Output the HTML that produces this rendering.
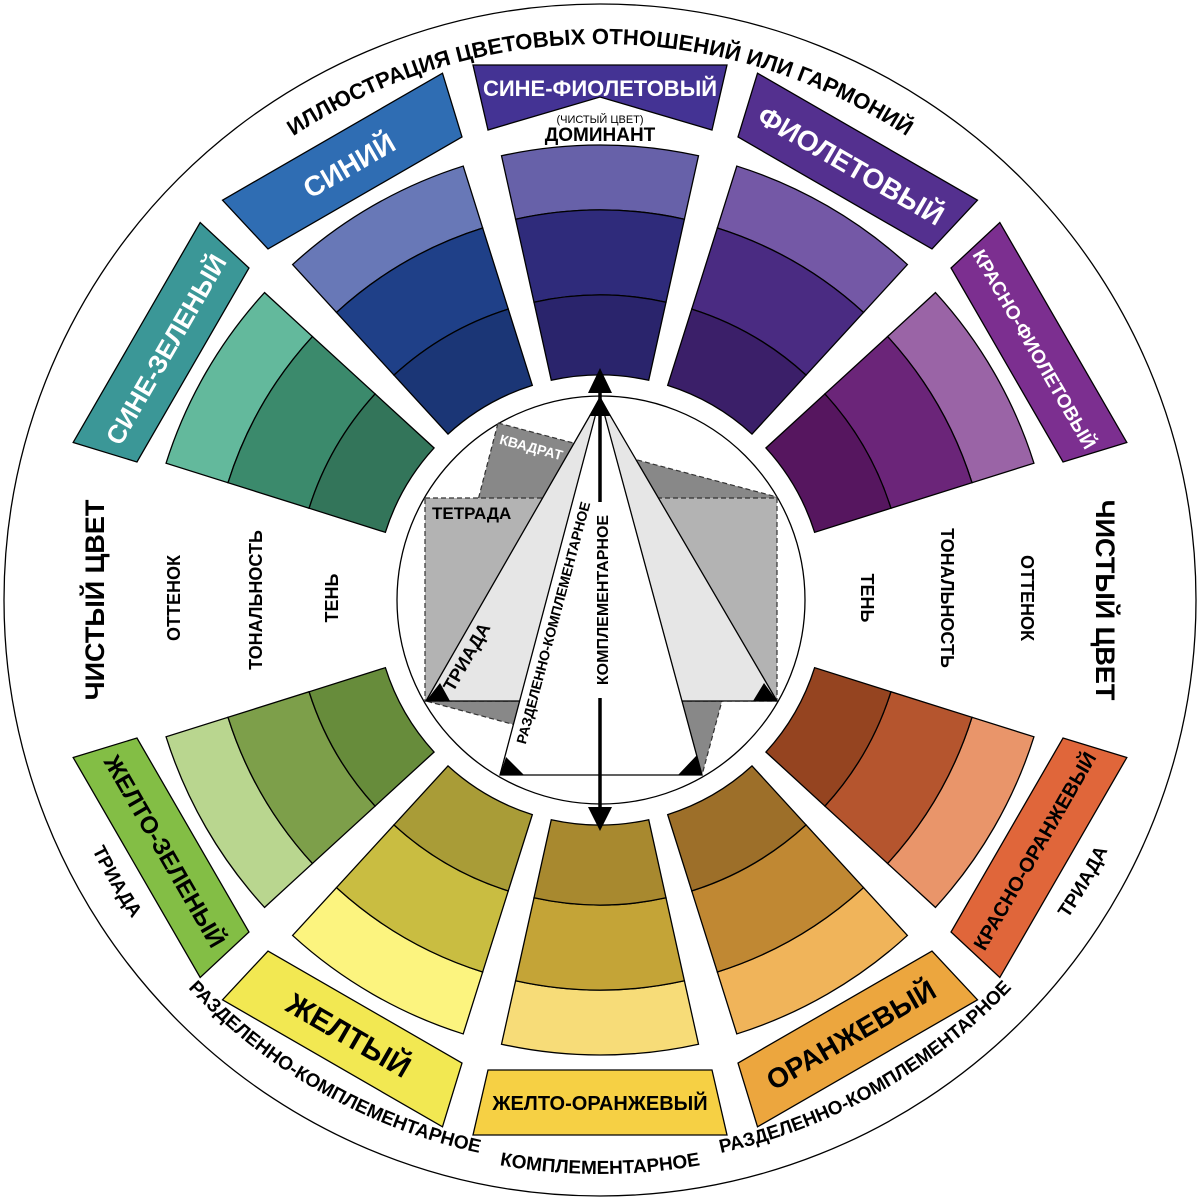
<!DOCTYPE html>
<html><head><meta charset="utf-8"><style>
html,body{margin:0;padding:0;background:#fff}
svg{display:block}
text{font-family:"Liberation Sans","DejaVu Sans",sans-serif}
</style></head><body>
<svg width="1200" height="1199" viewBox="0 0 1200 1199" xmlns="http://www.w3.org/2000/svg">
<defs>
<path id="b1" d="M501.5,155.8 A455,455 0 0,1 698.5,155.8 L684.4,219.2 A390,390 0 0,0 515.6,219.2 Z"/>
<path id="b2" d="M515.6,219.2 A390,390 0 0,1 684.4,219.2 L666,302.2 A305,305 0 0,0 534,302.2 Z"/>
<path id="b3" d="M534,302.2 A305,305 0 0,1 666,302.2 L648.7,380.3 A225,225 0 0,0 551.3,380.3 Z"/>
<polygon id="lt" points="473,65 727,65 712,130 488,130"/>
<polygon id="lb" points="473,1135 727,1135 712,1070 488,1070"/>
<path id="topArc" d="M44,600 A556,556 0 0,1 1156,600"/>
<path id="botArc" d="M26,600 A574,574 0 0,0 1174,600"/>
<path id="botArc2" d="M34,600 A566,566 0 0,0 1166,600"/>
</defs>
<circle cx="600" cy="600" r="596" fill="#fff" stroke="#000" stroke-width="1.3"/>

<g stroke="#000" stroke-width="1.3">
<g transform="rotate(0 600 600)"><use href="#b1" fill="#6761a9"/><use href="#b2" fill="#2f2b7b"/><use href="#b3" fill="#2a246c"/></g>
<g transform="rotate(30 600 600)"><use href="#b1" fill="#7458a6"/><use href="#b2" fill="#4a2b82"/><use href="#b3" fill="#3b1f69"/></g>
<g transform="rotate(60 600 600)"><use href="#b1" fill="#9a64a6"/><use href="#b2" fill="#6b2579"/><use href="#b3" fill="#56165f"/></g>
<g transform="rotate(120 600 600)"><use href="#b1" fill="#e9956a"/><use href="#b2" fill="#b5552e"/><use href="#b3" fill="#954420"/></g>
<g transform="rotate(150 600 600)"><use href="#b1" fill="#f0b45a"/><use href="#b2" fill="#c08833"/><use href="#b3" fill="#9d6f29"/></g>
<g transform="rotate(180 600 600)"><use href="#b1" fill="#f7dc78"/><use href="#b2" fill="#c4a437"/><use href="#b3" fill="#a8892f"/></g>
<g transform="rotate(210 600 600)"><use href="#b1" fill="#fcf47f"/><use href="#b2" fill="#c9bd41"/><use href="#b3" fill="#a99c37"/></g>
<g transform="rotate(240 600 600)"><use href="#b1" fill="#b9d68f"/><use href="#b2" fill="#7d9f4a"/><use href="#b3" fill="#678c3b"/></g>
<g transform="rotate(300 600 600)"><use href="#b1" fill="#63b99c"/><use href="#b2" fill="#3b8a6c"/><use href="#b3" fill="#33755a"/></g>
<g transform="rotate(330 600 600)"><use href="#b1" fill="#6878b7"/><use href="#b2" fill="#1f4088"/><use href="#b3" fill="#1b3676"/></g>
</g>

<!-- labels -->
<g stroke="#000" stroke-width="1.3" font-weight="bold" text-anchor="middle">
<polygon points="473,65 727,65 712,130 600,97 488,130" fill="#443394"/>
<text x="600" y="96" font-size="22" fill="#fff" stroke="none">СИНЕ-ФИОЛЕТОВЫЙ</text>
<g transform="rotate(30 600 600)"><use href="#lt" fill="#54308f"/><text x="600" y="108" font-size="28" fill="#fff" stroke="none">ФИОЛЕТОВЫЙ</text></g>
<g transform="rotate(60 600 600)"><use href="#lt" fill="#7c2f90"/><text x="600" y="105" font-size="19" fill="#fff" stroke="none">КРАСНО-ФИОЛЕТОВЫЙ</text></g>
<g transform="rotate(-60 600 600)"><use href="#lt" fill="#3b9797"/><text x="600" y="108" font-size="26" fill="#fff" stroke="none">СИНЕ-ЗЕЛЕНЫЙ</text></g>
<g transform="rotate(-30 600 600)"><use href="#lt" fill="#2f6db3"/><text x="600" y="108" font-size="28" fill="#fff" stroke="none">СИНИЙ</text></g>
<g transform="rotate(-60 600 600)"><use href="#lb" fill="#e0663a"/><text x="600" y="1109" font-size="20" fill="#000" stroke="none">КРАСНО-ОРАНЖЕВЫЙ</text></g>
<g transform="rotate(-30 600 600)"><use href="#lb" fill="#eca63e"/><text x="600" y="1112" font-size="28" fill="#000" stroke="none">ОРАНЖЕВЫЙ</text></g>
<g><use href="#lb" fill="#f6d044"/><text x="600" y="1110" font-size="20" fill="#000" stroke="none">ЖЕЛТО-ОРАНЖЕВЫЙ</text></g>
<g transform="rotate(30 600 600)"><use href="#lb" fill="#f2e852"/><text x="600" y="1113" font-size="30" fill="#000" stroke="none">ЖЕЛТЫЙ</text></g>
<g transform="rotate(60 600 600)"><use href="#lb" fill="#83be45"/><text x="600" y="1111" font-size="24" fill="#000" stroke="none">ЖЕЛТО-ЗЕЛЕНЫЙ</text></g>
</g>

<text x="600" y="123" font-size="11" text-anchor="middle" fill="#000">(ЧИСТЫЙ ЦВЕТ)</text>
<text x="600" y="141" font-size="19" font-weight="bold" text-anchor="middle" fill="#000">ДОМИНАНТ</text>

<!-- arc texts -->
<text font-size="22" font-weight="bold" fill="#000"><textPath href="#topArc" startOffset="50%" text-anchor="middle" textLength="650" lengthAdjust="spacing">ИЛЛЮСТРАЦИЯ ЦВЕТОВЫХ ОТНОШЕНИЙ ИЛИ ГАРМОНИЙ</textPath></text>
<text font-size="19" font-weight="bold" fill="#000"><textPath href="#botArc" startOffset="50%" text-anchor="middle">КОМПЛЕМЕНТАРНОЕ</textPath></text>
<text font-size="19" font-weight="bold" fill="#000"><textPath href="#botArc2" startOffset="33.6%" text-anchor="middle">РАЗДЕЛЕННО-КОМПЛЕМЕНТАРНОЕ</textPath></text>
<text font-size="19" font-weight="bold" fill="#000"><textPath href="#botArc2" startOffset="66.4%" text-anchor="middle">РАЗДЕЛЕННО-КОМПЛЕМЕНТАРНОЕ</textPath></text>
<text font-size="19" font-weight="bold" fill="#000"><textPath href="#botArc2" startOffset="16.8%" text-anchor="middle">ТРИАДА</textPath></text>
<text font-size="19" font-weight="bold" fill="#000"><textPath href="#botArc2" startOffset="83.2%" text-anchor="middle">ТРИАДА</textPath></text>

<!-- side texts -->
<g text-anchor="middle" fill="#000" font-weight="bold">
<text transform="translate(104,600) rotate(-90)" font-size="27">ЧИСТЫЙ ЦВЕТ</text>
<text transform="translate(180,598) rotate(-90)" font-size="18">ОТТЕНОК</text>
<text transform="translate(262,600) rotate(-90)" font-size="18">ТОНАЛЬНОСТЬ</text>
<text transform="translate(338,598) rotate(-90)" font-size="18">ТЕНЬ</text>
<text transform="translate(1096,600) rotate(90)" font-size="27">ЧИСТЫЙ ЦВЕТ</text>
<text transform="translate(1021,598) rotate(90)" font-size="18">ОТТЕНОК</text>
<text transform="translate(941,598) rotate(90)" font-size="18">ТОНАЛЬНОСТЬ</text>
<text transform="translate(861,598) rotate(90)" font-size="18">ТЕНЬ</text>
</g>

<!-- center -->
<circle cx="601" cy="600" r="204" fill="#fff" stroke="#000" stroke-width="1.3"/>
<polygon points="498,423 777,497 702,775 426,701" fill="#888" stroke="#333" stroke-width="1.2" stroke-dasharray="5,3"/>
<rect x="425" y="498" width="352" height="203" fill="#b3b3b3" stroke="#333" stroke-width="1.2" stroke-dasharray="5,3"/>
<polygon points="600,398 426,701 777,701" fill="#e6e6e6" stroke="#000" stroke-width="1.3"/>
<polygon points="600,398 500,775 702,775" fill="#fff" stroke="#000" stroke-width="1.3"/>
<line x1="600" y1="385" x2="600" y2="815" stroke="#000" stroke-width="3.5"/>
<polygon points="600,368 588,393 612,393" fill="#000"/>
<polygon points="600,396 589,416 611,416" fill="#000"/>
<polygon points="600,831 588,807 612,807" fill="#000"/>
<polygon points="426,701 450,701 440,683" fill="#000"/>
<polygon points="777,701 753,701 764,683" fill="#000"/>
<polygon points="500,775 524,775 506,757" fill="#000"/>
<polygon points="702,775 678,775 697,755" fill="#000"/>
<rect x="592" y="502" width="20" height="196" fill="#fff"/>
<text transform="translate(530,452) rotate(15)" font-size="14" font-weight="bold" fill="#fff" text-anchor="middle">КВАДРАТ</text>
<text x="432" y="519" font-size="17" font-weight="bold" fill="#000">ТЕТРАДА</text>
<text transform="translate(472,660) rotate(-60)" font-size="18" font-weight="bold" fill="#000" text-anchor="middle">ТРИАДА</text>
<text transform="translate(558,624) rotate(-75)" font-size="14" font-weight="bold" fill="#000" text-anchor="middle">РАЗДЕЛЕННО-КОМПЛЕМЕНТАРНОЕ</text>
<text transform="translate(608,600) rotate(-90)" font-size="16" font-weight="bold" fill="#000" text-anchor="middle">КОМПЛЕМЕНТАРНОЕ</text>
</svg>
</body></html>
